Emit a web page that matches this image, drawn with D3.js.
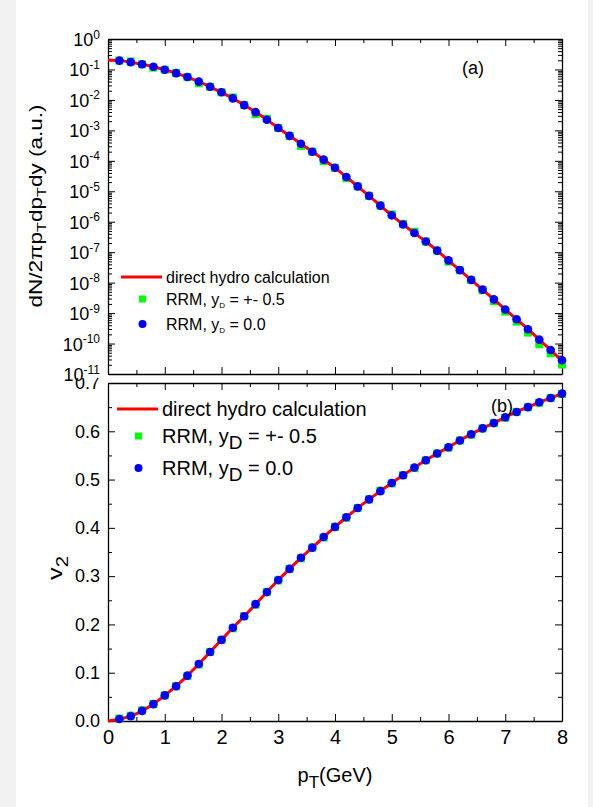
<!DOCTYPE html>
<html>
<head>
<meta charset="utf-8">
<script src="https://cdn.jsdelivr.net/npm/d3@7"></script>
<style>
  html, body { margin: 0; padding: 0; background: #f2f2f2; }
  svg { display: block; font-family: "Liberation Sans", Arial, Helvetica, sans-serif; }
</style>
</head>
<body>
<svg id="chart" width="593" height="807"></svg>
<script>
// Transverse momentum grid of the RRM points (GeV)
const pTPoints = [0.2, 0.4, 0.6, 0.8, 1.0, 1.2, 1.4, 1.6, 1.8, 2.0,
                  2.2, 2.4, 2.6, 2.8, 3.0, 3.2, 3.4, 3.6, 3.8, 4.0,
                  4.2, 4.4, 4.6, 4.8, 5.0, 5.2, 5.4, 5.6, 5.8, 6.0,
                  6.2, 6.4, 6.6, 6.8, 7.0, 7.2, 7.4, 7.6, 7.8, 8.0];
// Grid of the direct hydro curve (starts at pT = 0)
const pTLine = [0.0, 0.2, 0.4, 0.6, 0.8, 1.0, 1.2, 1.4, 1.6, 1.8, 2.0,
                2.2, 2.4, 2.6, 2.8, 3.0, 3.2, 3.4, 3.6, 3.8, 4.0,
                4.2, 4.4, 4.6, 4.8, 5.0, 5.2, 5.4, 5.6, 5.8, 6.0,
                6.2, 6.4, 6.6, 6.8, 7.0, 7.2, 7.4, 7.6, 7.8, 8.0];

// (a) spectrum dN/2πpTdpTdy, stored as log10 of the value
const specHydroLog = [-0.69, -0.71, -0.76, -0.83, -0.91, -1.01, -1.12, -1.25, -1.40, -1.57, -1.75,
                      -1.95, -2.17, -2.40, -2.65, -2.92, -3.18, -3.44, -3.70, -3.96, -4.23,
                      -4.53, -4.84, -5.15, -5.47, -5.79, -6.09, -6.37, -6.65, -6.95, -7.27,
                      -7.59, -7.91, -8.23, -8.55, -8.88, -9.20, -9.53, -9.87, -10.21, -10.58];
const specY0Log    = [-0.71, -0.76, -0.83, -0.91, -1.01, -1.12, -1.25, -1.40, -1.57, -1.75,
                      -1.95, -2.17, -2.40, -2.65, -2.92, -3.18, -3.44, -3.70, -3.96, -4.23,
                      -4.53, -4.84, -5.15, -5.47, -5.79, -6.09, -6.37, -6.65, -6.95, -7.27,
                      -7.59, -7.91, -8.23, -8.55, -8.88, -9.20, -9.53, -9.87, -10.21, -10.55];
const specY05Log   = [-0.71, -0.74, -0.83, -0.94, -1.01, -1.12, -1.25, -1.45, -1.57, -1.75,
                      -1.92, -2.17, -2.47, -2.62, -2.92, -3.18, -3.51, -3.70, -4.01, -4.23,
                      -4.57, -4.84, -5.15, -5.47, -5.76, -6.07, -6.33, -6.65, -6.95, -7.31,
                      -7.59, -7.91, -8.25, -8.61, -8.95, -9.28, -9.64, -10.02, -10.32, -10.69];

// (b) elliptic flow v2
const v2Hydro = [0.000, 0.004, 0.010, 0.021, 0.035, 0.053, 0.072, 0.094, 0.118, 0.143, 0.168,
                 0.193, 0.217, 0.242, 0.267, 0.292, 0.315, 0.338, 0.359, 0.381, 0.402,
                 0.422, 0.441, 0.459, 0.476, 0.493, 0.509, 0.525, 0.540, 0.554, 0.567,
                 0.581, 0.594, 0.606, 0.617, 0.629, 0.640, 0.650, 0.660, 0.669, 0.678];
const v2Y0     = [0.004, 0.010, 0.021, 0.035, 0.053, 0.072, 0.094, 0.118, 0.143, 0.168,
                  0.193, 0.217, 0.242, 0.267, 0.292, 0.315, 0.338, 0.359, 0.381, 0.402,
                  0.422, 0.441, 0.459, 0.476, 0.493, 0.509, 0.525, 0.540, 0.554, 0.567,
                  0.581, 0.594, 0.606, 0.617, 0.629, 0.640, 0.650, 0.660, 0.669, 0.678];
const v2Y05    = [0.005, 0.011, 0.022, 0.035, 0.053, 0.072, 0.093, 0.117, 0.143, 0.168,
                  0.192, 0.217, 0.241, 0.267, 0.291, 0.315, 0.337, 0.359, 0.380, 0.402,
                  0.421, 0.441, 0.459, 0.477, 0.492, 0.509, 0.524, 0.540, 0.554, 0.566,
                  0.581, 0.593, 0.606, 0.617, 0.628, 0.640, 0.650, 0.659, 0.669, 0.677];

// Axis ticks
const xMajor = [0, 1, 2, 3, 4, 5, 6, 7, 8];
const xMinor = [0.5, 1.5, 2.5, 3.5, 4.5, 5.5, 6.5, 7.5];
const decadeExps = [0, -1, -2, -3, -4, -5, -6, -7, -8, -9, -10, -11];
const v2Major = [0.0, 0.1, 0.2, 0.3, 0.4, 0.5, 0.6, 0.7];
const v2Minor = [0.05, 0.15, 0.25, 0.35, 0.45, 0.55, 0.65];

// Legend entries
const legendA = ["direct hydro calculation", "RRM, y", "RRM, y"];
const legendRest = [" = +- 0.5", " = 0.0"];

const RED = "#ff0000", GREEN = "#00ff00", BLUE = "#0000ff";

const svg = d3.select("#chart");
svg.append("rect").attr("x", 16).attr("y", 0).attr("width", 572).attr("height", 807).attr("fill", "#ffffff");

const X0 = 108, X1 = 562;
const A_TOP = 39, A_BOT = 374, B_TOP = 383, B_BOT = 721;

const x = d3.scaleLinear().domain([0, 8]).range([X0, X1]);
const yA = d3.scaleLog().domain([1e-11, 1]).range([A_BOT, A_TOP]);
const yB = d3.scaleLinear().domain([0, 0.7]).range([B_BOT, B_TOP]);

const decades = decadeExps.map(e => Math.pow(10, e));
const logMinor = [];
decadeExps.slice(1).forEach(e => { for (let m = 2; m <= 9; m++) logMinor.push(m * Math.pow(10, e)); });

function styleAxis(g, size) {
  g.attr("font-family", null).attr("font-size", size);
  g.selectAll("line").attr("stroke", "#000").attr("stroke-width", 1);
  g.selectAll(".domain").attr("stroke", "#000").attr("stroke-width", 1.3);
  g.selectAll("text").attr("fill", "#000");
  return g;
}

function addAxis(gen, tx, ty, size, keepDomain) {
  const g = svg.append("g").attr("transform", `translate(${tx},${ty})`).call(gen);
  styleAxis(g, size);
  if (!keepDomain) g.select(".domain").remove();
  return g;
}

// ---- panel (b) frame first, so panel (a) sits on top of its uppermost label
function xAxes(top, bot, labels) {
  addAxis(d3.axisBottom(x).tickValues(xMajor).tickSizeInner(-7).tickSizeOuter(0)
          .tickPadding(9).tickFormat(labels ? d3.format("d") : () => ""), 0, bot, 20, true);
  addAxis(d3.axisBottom(x).tickValues(xMinor).tickSizeInner(-4).tickFormat(() => ""), 0, bot, 10, false);
  addAxis(d3.axisTop(x).tickValues(xMajor).tickSizeInner(-7).tickSizeOuter(0).tickFormat(() => ""), 0, top, 10, true);
  addAxis(d3.axisTop(x).tickValues(xMinor).tickSizeInner(-4).tickFormat(() => ""), 0, top, 10, false);
}
xAxes(B_TOP, B_BOT, true);

addAxis(d3.axisLeft(yB).tickValues(v2Major).tickSizeInner(-7).tickSizeOuter(0).tickPadding(8)
        .tickFormat(d3.format(".1f")), X0, 0, 18, true);
addAxis(d3.axisLeft(yB).tickValues(v2Minor).tickSizeInner(-4).tickFormat(() => ""), X0, 0, 10, false);
addAxis(d3.axisRight(yB).tickValues(v2Major).tickSizeInner(-7).tickSizeOuter(0).tickFormat(() => ""), X1, 0, 10, true);
addAxis(d3.axisRight(yB).tickValues(v2Minor).tickSizeInner(-4).tickFormat(() => ""), X1, 0, 10, false);

// white backing of panel (a) label column
svg.append("rect").attr("x", 16).attr("y", 0).attr("width", X0 - 17).attr("height", 378).attr("fill", "#ffffff");

// ---- frame and ticks of panel (a)
xAxes(A_TOP, A_BOT, false);
const leftA = addAxis(d3.axisLeft(yA).tickValues(decades).tickSizeInner(-7).tickSizeOuter(0).tickPadding(8),
                      X0, 0, 18, true);
leftA.selectAll(".tick text").each(function (d) {
  const t = d3.select(this).text(null).attr("dy", "0.36em");
  t.append("tspan").text("10");
  t.append("tspan").attr("dy", "-0.62em").attr("font-size", 12).text(String(Math.round(Math.log10(d))));
});
addAxis(d3.axisLeft(yA).tickValues(logMinor).tickSizeInner(-4).tickFormat(() => ""), X0, 0, 10, false);
addAxis(d3.axisRight(yA).tickValues(decades).tickSizeInner(-7).tickSizeOuter(0).tickFormat(() => ""), X1, 0, 10, true);
addAxis(d3.axisRight(yA).tickValues(logMinor).tickSizeInner(-4).tickFormat(() => ""), X1, 0, 10, false);

// ---- data of panel (a)
const gA = svg.append("g");
const lineA = d3.line().x((d, i) => x(pTLine[i])).y(d => yA(Math.pow(10, d))).curve(d3.curveMonotoneX);
gA.selectAll("rect.y05").data(specY05Log).join("rect").attr("class", "y05")
  .attr("x", (d, i) => x(pTPoints[i]) - 4).attr("y", d => yA(Math.pow(10, d)) - 4)
  .attr("width", 8).attr("height", 8).attr("fill", GREEN);
gA.append("path").datum(specHydroLog).attr("d", lineA)
  .attr("fill", "none").attr("stroke", RED).attr("stroke-width", 3);
gA.selectAll("circle.y0").data(specY0Log).join("circle").attr("class", "y0")
  .attr("cx", (d, i) => x(pTPoints[i])).attr("cy", d => yA(Math.pow(10, d)))
  .attr("r", 4.3).attr("fill", BLUE);

// ---- data of panel (b)
const gB = svg.append("g");
const lineB = d3.line().x((d, i) => x(pTLine[i])).y(d => yB(d)).curve(d3.curveMonotoneX);
gB.selectAll("rect.y05").data(v2Y05).join("rect").attr("class", "y05")
  .attr("x", (d, i) => x(pTPoints[i]) - 4).attr("y", d => yB(d) - 4)
  .attr("width", 8).attr("height", 8).attr("fill", GREEN);
gB.append("path").datum(v2Hydro).attr("d", lineB)
  .attr("fill", "none").attr("stroke", RED).attr("stroke-width", 3);
gB.selectAll("circle.y0").data(v2Y0).join("circle").attr("class", "y0")
  .attr("cx", (d, i) => x(pTPoints[i])).attr("cy", d => yB(d))
  .attr("r", 4.3).attr("fill", BLUE);

// ---- legends
function legend(lx, rows, fs, subFs, subDy) {
  const g = svg.append("g");
  g.append("line").attr("x1", lx - 45).attr("x2", lx - 4).attr("y1", rows[0]).attr("y2", rows[0])
    .attr("stroke", RED).attr("stroke-width", 3);
  g.append("text").attr("x", lx).attr("y", rows[0] + fs * 0.36).attr("font-size", fs).text(legendA[0]);
  g.append("rect").attr("x", lx - 27).attr("y", rows[1] - 3.5).attr("width", 7).attr("height", 7).attr("fill", GREEN);
  g.append("circle").attr("cx", lx - 23.5).attr("cy", rows[2]).attr("r", 4).attr("fill", BLUE);
  [1, 2].forEach(k => {
    const t = g.append("text").attr("x", lx).attr("y", rows[k] + fs * 0.36).attr("font-size", fs);
    t.append("tspan").text(legendA[k]);
    t.append("tspan").attr("font-size", subFs).attr("dy", subDy).text("D");
    t.append("tspan").attr("dy", -subDy).text(legendRest[k - 1]);
  });
}
legend(166, [277, 299, 324], 16, 8, 3);
legend(162, [409, 436, 468], 20, 19, 6);

// panel tags
svg.append("text").attr("x", 462).attr("y", 74).attr("font-size", 18).text("(a)");
svg.append("text").attr("x", 491).attr("y", 412).attr("font-size", 18).text("(b)");

// axis titles
const tA = svg.append("text").attr("transform", "translate(42,206) rotate(-90) scale(1.25,1)")
  .attr("text-anchor", "middle").attr("font-size", 18);
tA.append("tspan").text("dN/2πp");
tA.append("tspan").attr("font-size", 13).attr("dy", 4).text("T");
tA.append("tspan").attr("dy", -4).text("dp");
tA.append("tspan").attr("font-size", 13).attr("dy", 4).text("T");
tA.append("tspan").attr("dy", -4).text("dy (a.u.)");

const tB = svg.append("text").attr("transform", "translate(62,568) rotate(-90) scale(1.2,1)")
  .attr("text-anchor", "middle").attr("font-size", 21);
tB.append("tspan").text("v");
tB.append("tspan").attr("font-size", 17).attr("dy", 6).text("2");

const tX = svg.append("text").attr("x", 335).attr("y", 782).attr("text-anchor", "middle").attr("font-size", 20);
tX.append("tspan").text("p");
tX.append("tspan").attr("font-size", 17).attr("dy", 6).text("T");
tX.append("tspan").attr("dy", -6).text("(GeV)");
</script>
</body>
</html>
